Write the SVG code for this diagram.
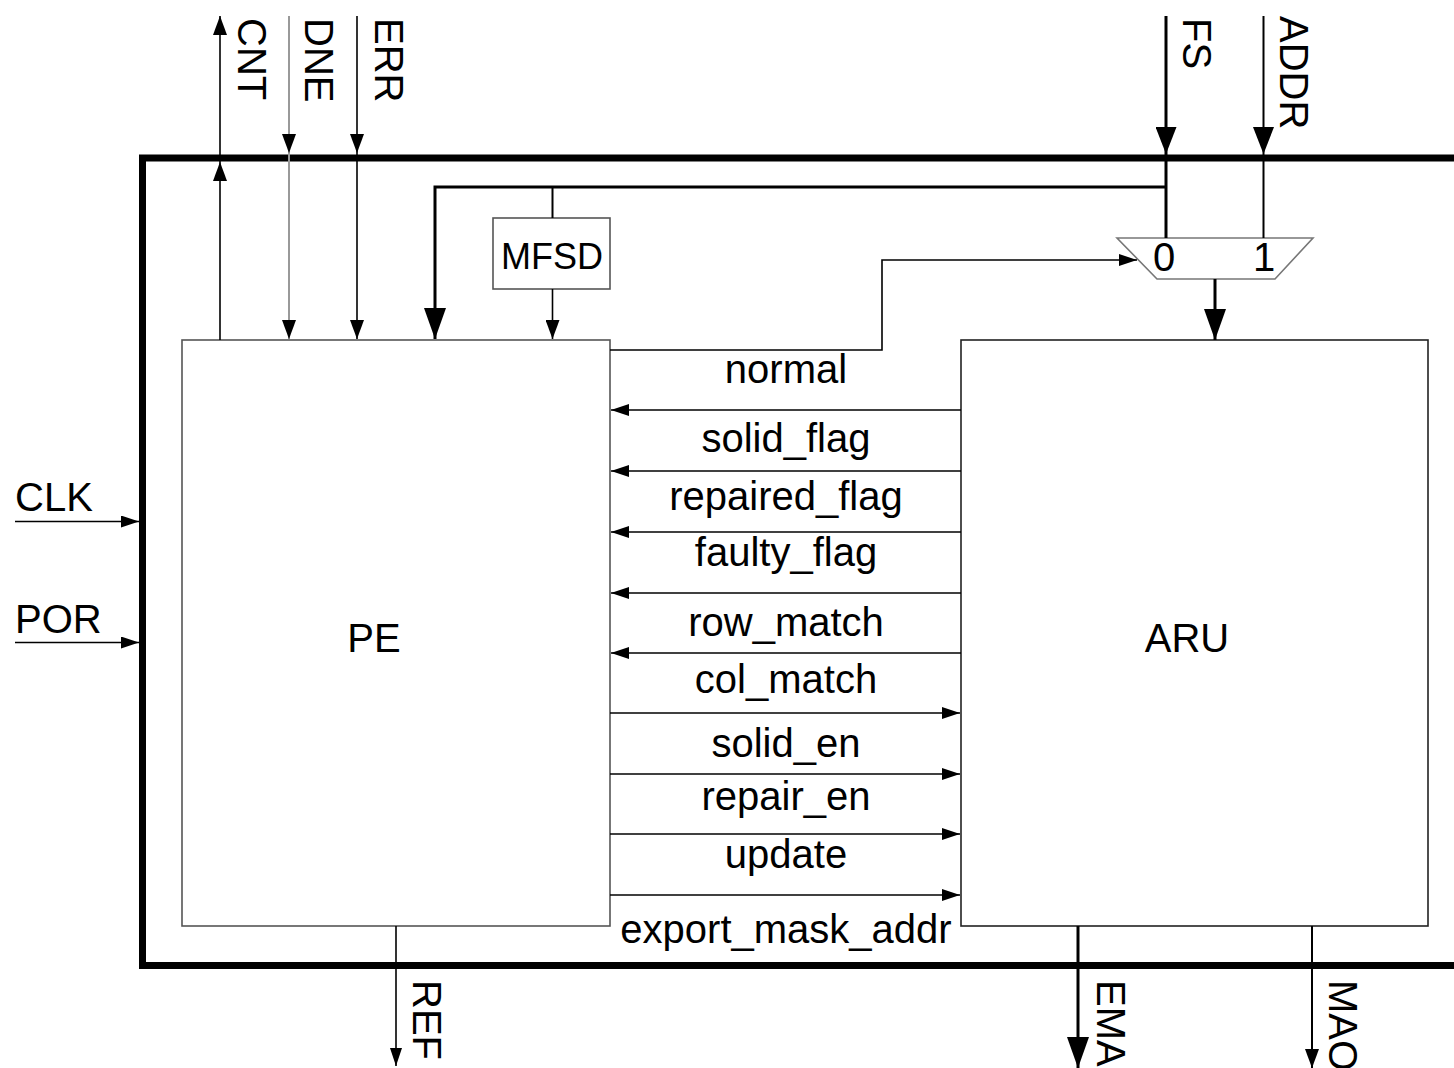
<svg xmlns="http://www.w3.org/2000/svg" width="1454" height="1068" viewBox="0 0 1454 1068">
<style>
text{font-family:"Liberation Sans",Arial,Helvetica,sans-serif;font-size:40px;fill:#000}
.lbl{text-anchor:middle}
.w{fill:none;stroke:#000;stroke-width:1.6}
.wg{fill:none;stroke:#999;stroke-width:2}
.b{fill:none;stroke:#000;stroke-width:3}
.box{fill:#fff;stroke:#555;stroke-width:1.6}
</style>
<defs>
<marker id="as" markerUnits="userSpaceOnUse" markerWidth="18" markerHeight="12" refX="18" refY="6" orient="auto"><path d="M0,0 L18,6 L0,12 z" fill="#000"/></marker>
<marker id="am" markerUnits="userSpaceOnUse" markerWidth="20" markerHeight="14" refX="19" refY="7" orient="auto"><path d="M0,0 L19,7 L0,14 z" fill="#000"/></marker>
<marker id="ab" markerUnits="userSpaceOnUse" markerWidth="32" markerHeight="22" refX="31" refY="11" orient="auto"><path d="M0,0 L31,11 L0,22 z" fill="#000"/></marker>
<marker id="af" markerUnits="userSpaceOnUse" markerWidth="28" markerHeight="21" refX="27" refY="10.5" orient="auto"><path d="M0,0 L27,10.5 L0,21 z" fill="#000"/></marker>
</defs>

<g id="frame">
<path d="M1460,158 H142.5 V965.5 H1460" fill="none" stroke="#000" stroke-width="7"/>
</g>

<g id="PE">
<rect class="box" x="182" y="340" width="428" height="586"/>
<text class="lbl" x="374" y="652">PE</text>
</g>

<g id="ARU">
<rect x="961" y="340" width="467" height="586" fill="#fff" stroke="#222" stroke-width="1.6"/>
<text class="lbl" x="1187" y="652">ARU</text>
</g>

<g id="MFSD">
<rect class="box" x="493" y="218" width="117" height="71" stroke="#777"/>
<text class="lbl" x="552" y="269" style="font-size:36px">MFSD</text>
</g>

<g id="MUX">
<path d="M1117,238 H1313 L1275,279 H1157 Z" fill="#fff" stroke="#777" stroke-width="1.6"/>
<text class="lbl" x="1164" y="271">0</text>
<text class="lbl" x="1264" y="271">1</text>
</g>

<g id="connectors">
<!-- top pins -->
<line class="w" x1="220" y1="340" x2="220" y2="162" marker-end="url(#am)"/>
<line class="w" x1="220" y1="162" x2="220" y2="16" marker-end="url(#am)"/>
<line class="wg" x1="289" y1="16" x2="289" y2="153" marker-end="url(#am)"/>
<line class="wg" x1="289" y1="153" x2="289" y2="339" marker-end="url(#am)"/>
<line class="w" x1="357" y1="16" x2="357" y2="153" marker-end="url(#am)"/>
<line class="w" x1="357" y1="153" x2="357" y2="339" marker-end="url(#am)"/>
<line class="b" x1="1166" y1="16" x2="1166" y2="154" marker-end="url(#af)"/>
<line class="b" x1="1166" y1="154" x2="1166" y2="238"/>
<line x1="1263.5" y1="16" x2="1263.5" y2="154" stroke="#000" stroke-width="2" marker-end="url(#af)"/>
<line x1="1263.5" y1="154" x2="1263.5" y2="238" stroke="#000" stroke-width="2"/>
<!-- FS branch to PE and MFSD -->
<path class="b" d="M1166,187 H435 V339" marker-end="url(#ab)"/>
<line x1="552.5" y1="187" x2="552.5" y2="218" stroke="#000" stroke-width="2"/>
<line class="w" x1="552.5" y1="289" x2="552.5" y2="339" marker-end="url(#am)"/>
<!-- mux output -->
<line class="b" x1="1215" y1="279" x2="1215" y2="340" marker-end="url(#ab)"/>
<!-- normal -->
<path class="w" d="M610,350 H882 V260 H1137" marker-end="url(#as)"/>
<!-- ARU to PE -->
<line class="w" x1="961" y1="410" x2="611" y2="410" marker-end="url(#as)"/>
<line class="w" x1="961" y1="471" x2="611" y2="471" marker-end="url(#as)"/>
<line class="w" x1="961" y1="532" x2="611" y2="532" marker-end="url(#as)"/>
<line class="w" x1="961" y1="593" x2="611" y2="593" marker-end="url(#as)"/>
<line class="w" x1="961" y1="653" x2="611" y2="653" marker-end="url(#as)"/>
<!-- PE to ARU -->
<line class="w" x1="610" y1="713" x2="960" y2="713" marker-end="url(#as)"/>
<line class="w" x1="610" y1="774" x2="960" y2="774" marker-end="url(#as)"/>
<line class="w" x1="610" y1="834" x2="960" y2="834" marker-end="url(#as)"/>
<line class="w" x1="610" y1="895" x2="960" y2="895" marker-end="url(#as)"/>
<!-- left inputs -->
<line class="w" x1="15" y1="521.5" x2="139" y2="521.5" marker-end="url(#as)"/>
<line class="w" x1="15" y1="642.5" x2="139" y2="642.5" marker-end="url(#as)"/>
<!-- bottom outputs -->
<line class="w" x1="396" y1="926" x2="396" y2="1066" marker-end="url(#as)"/>
<line class="b" x1="1078" y1="926" x2="1078" y2="1068" marker-end="url(#ab)"/>
<line x1="1312" y1="926" x2="1312" y2="1068" stroke="#000" stroke-width="2" marker-end="url(#am)"/>
</g>

<g id="labels">
<text class="lbl" x="786" y="383">normal</text>
<text class="lbl" x="786" y="452">solid_flag</text>
<text class="lbl" x="786" y="510">repaired_flag</text>
<text class="lbl" x="786" y="566">faulty_flag</text>
<text class="lbl" x="786" y="636">row_match</text>
<text class="lbl" x="786" y="693">col_match</text>
<text class="lbl" x="786" y="757">solid_en</text>
<text class="lbl" x="786" y="810">repair_en</text>
<text class="lbl" x="786" y="868">update</text>
<text class="lbl" x="786" y="943">export_mask_addr</text>
<text x="15" y="511">CLK</text>
<text x="15" y="633">POR</text>
<text transform="translate(238,18) rotate(90)">CNT</text>
<text transform="translate(305,18) rotate(90)">DNE</text>
<text transform="translate(375,18) rotate(90)">ERR</text>
<text transform="translate(1183,18) rotate(90)">FS</text>
<text transform="translate(1280,16) rotate(90)">ADDR</text>
<text transform="translate(413,980) rotate(90)">REF</text>
<text transform="translate(1097,980) rotate(90)">EMA</text>
<text transform="translate(1329,980) rotate(90)">MAO</text>
</g>
</svg>
